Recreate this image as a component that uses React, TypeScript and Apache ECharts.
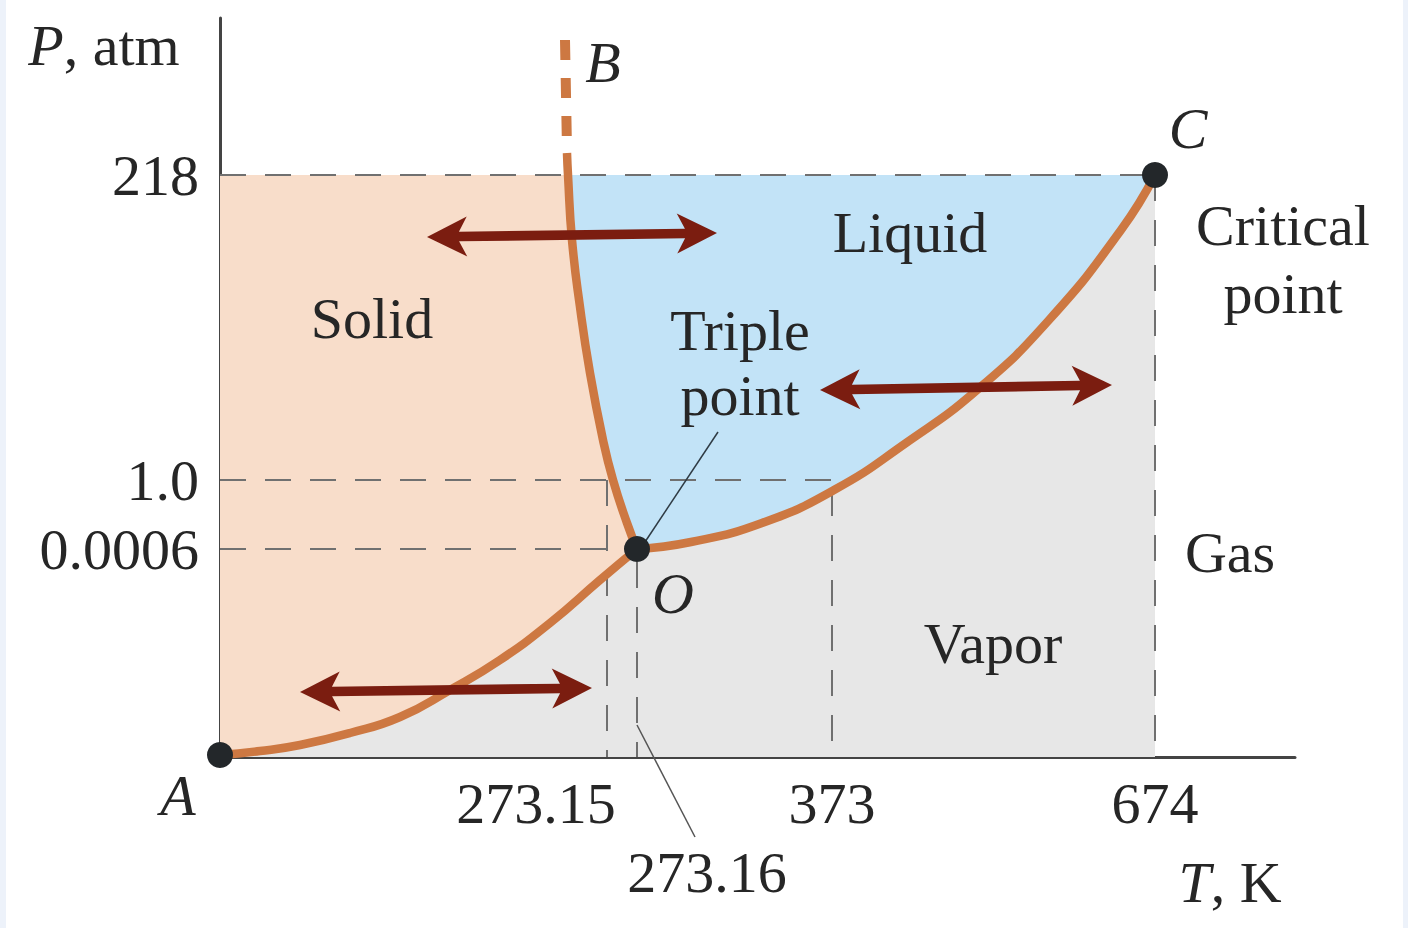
import React, { useEffect, useRef } from "react";
import * as echarts from "echarts";

// Schematic phase diagram of water. Axes are schematic (not to scale):
// x and y values below are positions in schematic axis units.
const xMax = 1075;
const yMax = 739;

const xTickLabels = ["273.15", "273.16", "373", "674"];
const xTickPos = [387, 417, 612, 935];
const yTickLabels = ["0.0006", "1.0", "218"];
const yTickPos = [208, 277, 582];

const pointA = [0, 2];
const triplePoint = [417, 208];
const criticalPoint = [935, 582];

const sublimationCurve = [
  [0, 2], [40, 6], [80, 12], [130, 24], [180, 40], [230, 67],
  [280, 97], [330, 134], [380, 177], [417, 208],
];
const fusionCurve = [
  [417, 208], [407, 234], [393, 277], [383, 317], [370, 384],
  [360, 450], [352, 517], [348, 582], [347, 604],
];
const fusionDashed = [[345, 717], [347, 607]];
const vaporizationCurve = [
  [417, 208], [471, 215], [542, 234], [614, 267], [686, 314],
  [757, 367], [829, 437], [901, 527], [935, 582],
];

// double arrows: [x1, y1, x2, y2]
const arrows = [
  [207, 520, 497, 524],
  [600, 367, 892, 372],
  [80, 65, 372, 69],
];

const guideLines = [
  [[0, 582], [935, 582]],
  [[0, 277], [612, 277]],
  [[0, 208], [387, 208]],
  [[387, 277], [387, 0]],
  [[417, 195], [417, 0]],
  [[612, 267], [612, 0]],
  [[935, 582], [935, 0]],
];

const tripleLeader = [[498, 325], [425, 215]];
const tickLeader = [[417, 32], [475, -80]];

const FONT = '"Palatino Linotype", "Book Antiqua", Palatino, "Liberation Serif", serif';
const TEXT = "#262626";
const CURVE = "#cd7842";
const ARROW = "#7b1d10";
const DOT = "#23272a";

const fusionTop = fusionCurve.filter((p) => p[1] <= 582);
const regions = [
  { color: "#e7e7e7", pts: [[0, 0], [935, 0], [935, 582], [0, 582]] },
  { color: "#f8ddca", pts: [...sublimationCurve, ...fusionTop.slice(1), [0, 582]] },
  { color: "#c2e3f7", pts: [...vaporizationCurve, ...fusionTop.slice(1).reverse()] },
];

function lineSeries(data: number[][], style: any, z: number, smooth = false) {
  return {
    type: "line",
    data,
    smooth,
    symbol: "none",
    showSymbol: false,
    silent: true,
    clip: false,
    lineStyle: style,
    z,
  };
}

function txt(text: string, x: number, y: number, opts: any = {}) {
  return {
    type: "text",
    x,
    y,
    z: 100,
    silent: true,
    style: {
      text,
      fill: TEXT,
      fontSize: 58,
      fontFamily: FONT,
      fontStyle: opts.italic ? "italic" : "normal",
      align: opts.align || "center",
      verticalAlign: "middle",
      rich: { i: { fontStyle: "italic", fontSize: 58, fontFamily: FONT, fill: TEXT } },
    },
  };
}

export default function App() {
  const ref = useRef<HTMLDivElement>(null);
  useEffect(() => {
    const chart = echarts.init(ref.current!, null, { renderer: "svg" });
    const option: any = {
      animation: false,
      backgroundColor: "#ffffff",
      grid: { left: 220, right: 113, top: 18, bottom: 171, containLabel: false, outerBoundsMode: "none" },
      xAxis: {
        type: "value",
        min: 0,
        max: xMax,
        offset: 1,
        axisLine: { show: true, lineStyle: { color: "#444444", width: 3 } },
        axisTick: { show: false },
        splitLine: { show: false },
        axisLabel: {
          customValues: [xTickPos[0], xTickPos[2], xTickPos[3]],
          margin: 16,
          color: TEXT,
          fontSize: 58,
          fontFamily: FONT,
          formatter: (v: number) => {
            const i = xTickPos.indexOf(v);
            if (i < 0) return "";
            return i === 0 ? "{s|" + xTickLabels[i] + "}" : xTickLabels[i];
          },
          rich: { s: { padding: [0, 142, 0, 0], fontSize: 58, fontFamily: FONT, color: TEXT } },
        },
      },
      yAxis: {
        type: "value",
        min: 0,
        max: yMax,
        offset: 3,
        axisLine: { show: true, lineStyle: { color: "#444444", width: 3 } },
        axisTick: { show: false },
        splitLine: { show: false },
        axisLabel: {
          customValues: yTickPos,
          margin: 18,
          color: TEXT,
          fontSize: 58,
          fontFamily: FONT,
          formatter: (v: number) => {
            const i = yTickPos.indexOf(v);
            return i < 0 ? "" : yTickLabels[i];
          },
        },
      },
      graphic: [
        { type: "rect", left: 0, top: 0, shape: { width: 6, height: 928 }, style: { fill: "#edf2fa" }, z: 100 },
        { type: "rect", left: 1403, top: 0, shape: { width: 5, height: 928 }, style: { fill: "#edf2fa" }, z: 100 },
        txt("{i|P}, atm", 104, 45),
        txt("B", 603, 62, { italic: true }),
        txt("C", 1188, 128, { italic: true }),
        txt("Critical", 1283, 225),
        txt("point", 1283, 293),
        txt("Liquid", 910, 232),
        txt("Solid", 372, 318),
        txt("Triple", 740, 330),
        txt("point", 740, 395),
        txt("Gas", 1230, 552),
        txt("Vapor", 993, 643),
        txt("O", 673, 593, { italic: true }),
        txt("A", 178, 795, { italic: true }),
        txt(xTickLabels[1], 707, 872),
        txt("{i|T}, K", 1230, 882),
      ],
      series: [
        {
          type: "custom",
          silent: true,
          z: 1,
          data: regions.map((_, i) => [i, 0]),
          renderItem: (params: any, api: any) => {
            const r = regions[params.dataIndex];
            return {
              type: "polygon",
              shape: { points: r.pts.map((p) => api.coord(p)) },
              style: { fill: r.color },
            };
          },
        },
        ...guideLines.map((d) =>
          lineSeries(d, { type: [26, 19], width: 2, color: "#707070" }, 2)
        ),
        lineSeries(sublimationCurve, { color: CURVE, width: 8.5 }, 3, true),
        lineSeries(fusionCurve, { color: CURVE, width: 8.5 }, 3, true),
        lineSeries(vaporizationCurve, { color: CURVE, width: 8.5 }, 3, true),
        lineSeries(fusionDashed, { color: CURVE, width: 10, type: [20, 18] }, 3),
        lineSeries(tripleLeader, { color: "#2f3b44", width: 1.5 }, 4),
        lineSeries(tickLeader, { color: "#555555", width: 1.5 }, 4),
        {
          type: "custom",
          silent: true,
          z: 5,
          data: arrows,
          renderItem: (params: any, api: any) => {
            const p1 = api.coord([api.value(0), api.value(1)]);
            const p2 = api.coord([api.value(2), api.value(3)]);
            const dx = p2[0] - p1[0];
            const dy = p2[1] - p1[1];
            const L = Math.hypot(dx, dy);
            const ux = dx / L, uy = dy / L;
            const nx = -uy, ny = ux;
            const hl = 40, hw = 20, notch = 8, sw = 4.8;
            const P = (b: number[], a: number, n: number) => [b[0] + ux * a + nx * n, b[1] + uy * a + ny * n];
            const pts = [
              p1,
              P(p1, hl, hw),
              P(p1, hl - notch, sw),
              P(p2, -(hl - notch), sw),
              P(p2, -hl, hw),
              p2,
              P(p2, -hl, -hw),
              P(p2, -(hl - notch), -sw),
              P(p1, hl - notch, -sw),
              P(p1, hl, -hw),
            ];
            return { type: "polygon", shape: { points: pts }, style: { fill: ARROW } };
          },
        },
        {
          type: "scatter",
          silent: true,
          clip: false,
          z: 6,
          symbolSize: 26,
          itemStyle: { color: DOT, opacity: 1 },
          data: [pointA, triplePoint, criticalPoint],
        },
      ],
    };
    chart.setOption(option);
    return () => chart.dispose();
  }, []);
  return (
    <div
      ref={ref}
      style={{ position: "fixed", left: 0, top: 0, width: 1408, height: 928, background: "#fff" }}
    />
  );
}
